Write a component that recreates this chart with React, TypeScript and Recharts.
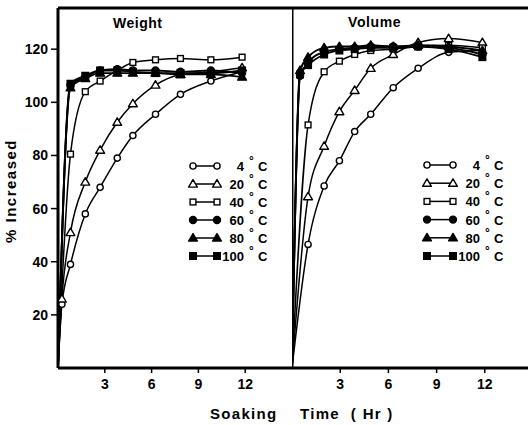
import React from 'react';
import { LineChart, Line, XAxis, YAxis, ReferenceLine } from 'recharts';

// ---------- data ----------
const weightTimes = [0, 0.25, 0.8, 1.75, 2.7, 3.8, 4.8, 6.25, 7.85, 9.8, 11.8];
const weight4 = [0, 24, 39, 58, 68, 79, 87.5, 95.5, 103, 108, 111.5];
const weight20 = [0, 26, 51, 70, 82, 92.5, 99.5, 106.5, 110.5, 111.5, 113];
const weight40 = [0, null, 80.5, 104, 108, 112, 115, 116, 116.5, 116, 117];
const weight60 = [0, null, 106.5, 109.5, 112, 112.5, 112, 112, 111.5, 112, 111];
const weight80 = [0, null, 105.5, 109, 111, 111, 111, 111, 110.5, 110.5, 109.5];
const weight100 = [0, null, 107, 110, 112, 112, 111.5, 111, 111, 111, 112];

const volumeTimes = [0, 0.5, 1, 2, 2.95, 3.9, 4.9, 6.3, 7.85, 9.75, 11.85];
const volume4 = [0, null, 46.5, 68.5, 78, 89, 95.5, 105.5, 112.8, 118.8, 119.5];
const volume20 = [0, null, 64.5, 83.5, 96.5, 104.5, 112.8, 118, 122.5, 124, 122.5];
const volume40 = [0, null, 91.5, 111.5, 115.5, 118, 119.5, 120, 121, 121.5, 120.5];
const volume60 = [0, 110, 115, 119, 120, 120.5, 121, 121, 121, 120.5, 118];
const volume80 = [0, 112, 117, 120.5, 121, 121, 121.5, 121, 121.5, 121, 119.5];
const volume100 = [0, 110.5, 114, 118, 119.5, 120, 120.5, 120.5, 121, 120, 117];

const tempLabels = ['4', '20', '40', '60', '80', '100'];
const markerShapes = ['openCircle', 'openTriangle', 'openSquare', 'circle', 'triangle', 'square'];
const xTicks = [3, 6, 9, 12];
const yTicks = [20, 40, 60, 80, 100, 120];

const Y_MAX = 135.5;
const X_MAX = 15;
const FONT = '"Liberation Sans", Arial, sans-serif';

// ---------- helpers ----------
function buildRows(times: number[], series: (number | null)[][]) {
  return times.map((t, i) => {
    const row: any = { t };
    series.forEach((s, k) => {
      row['s' + k] = s[i];
    });
    return row;
  });
}

const weightRows = buildRows(weightTimes, [weight4, weight20, weight40, weight60, weight80, weight100]);
const volumeRows = buildRows(volumeTimes, [volume4, volume20, volume40, volume60, volume80, volume100]);

function Marker({ shape, cx, cy }: { shape: string; cx: number; cy: number }) {
  const open = shape.startsWith('open');
  const fill = open ? '#fff' : '#000';
  const sw = 1.4;
  if (shape.endsWith('ircle')) {
    return <circle cx={cx} cy={cy} r={open ? 3.1 : 3.5} fill={fill} stroke="#000" strokeWidth={sw} />;
  }
  if (shape.endsWith('riangle')) {
    const s = 4.4;
    const pts = `${cx},${cy - s} ${cx - s},${cy + s * 0.7} ${cx + s},${cy + s * 0.7}`;
    return <polygon points={pts} fill={fill} stroke="#000" strokeWidth={sw} strokeLinejoin="round" />;
  }
  const h = open ? 2.9 : 3.3;
  return <rect x={cx - h} y={cy - h} width={h * 2} height={h * 2} fill={fill} stroke="#000" strokeWidth={sw} />;
}

function makeDot(shape: string) {
  return (p: any) => {
    const { cx, cy, index, payload, value } = p;
    if (cx == null || cy == null || value == null || (payload && payload.t === 0)) {
      return <g key={`d${index}`} />;
    }
    return (
      <g key={`d${index}`}>
        <Marker shape={shape} cx={cx} cy={cy} />
      </g>
    );
  };
}

const tickStyle = { fill: '#000', fontSize: 14, fontWeight: 'bold', fontFamily: FONT };

function Panel({ rows, showY, width }: { rows: any[]; showY: boolean; width: number }) {
  return (
    <LineChart width={width} height={425} data={rows} margin={{ top: 8, right: 0, bottom: 0, left: 0 }}>
      <XAxis
        dataKey="t"
        type="number"
        domain={[0, X_MAX]}
        ticks={xTicks}
        interval={0}
        allowDataOverflow
        height={57}
        tickSize={5}
        tickMargin={6}
        axisLine={{ stroke: '#000', strokeWidth: 3 }}
        tickLine={{ stroke: '#000', strokeWidth: 1.5 }}
        tick={tickStyle}
      />
      {showY ? (
        <YAxis
          type="number"
          domain={[0, Y_MAX]}
          ticks={yTicks}
          interval={0}
          allowDataOverflow
          width={58}
          tickSize={7}
          tickMargin={3}
          axisLine={{ stroke: '#000', strokeWidth: 3 }}
          tickLine={{ stroke: '#000', strokeWidth: 1.5 }}
          tick={tickStyle}
        />
      ) : (
        <YAxis hide type="number" domain={[0, Y_MAX]} allowDataOverflow />
      )}
      <ReferenceLine y={Y_MAX} stroke="#000" strokeWidth={3} />
      {!showY && <ReferenceLine x={0} stroke="#000" strokeWidth={3} />}
      {markerShapes.map((shape, k) => (
        <Line
          key={shape}
          dataKey={'s' + k}
          type="monotone"
          stroke="#000"
          strokeWidth={k >= 3 ? 1.9 : 1.5}
          connectNulls
          dot={makeDot(shape)}
          activeDot={false}
          isAnimationActive={false}
        />
      ))}
    </LineChart>
  );
}

function LegendBlock({ x1, x2, numEnd, y0, step }: { x1: number; x2: number; numEnd: number; y0: number; step: number }) {
  return (
    <g>
      {tempLabels.map((lab, i) => {
        const y = y0 + i * step;
        return (
          <g key={lab}>
            <line x1={x1} x2={x2} y1={y} y2={y} stroke="#000" strokeWidth={1.5} />
            <Marker shape={markerShapes[i]} cx={x1} cy={y} />
            <Marker shape={markerShapes[i]} cx={x2} cy={y} />
            <text x={numEnd} y={y + 5} textAnchor="end" fontSize={13} fontWeight="bold" fontFamily={FONT}>
              {lab}
            </text>
            <text x={numEnd + 5} y={y - 1} fontSize={12} fontWeight="bold" fontFamily={FONT}>
              °
            </text>
            <text x={numEnd + 14} y={y + 5} fontSize={13} fontWeight="bold" fontFamily={FONT}>
              C
            </text>
          </g>
        );
      })}
    </g>
  );
}

export default function App() {
  return (
    <div
      style={{
        position: 'absolute',
        left: 0,
        top: 0,
        width: 528,
        height: 425,
        overflow: 'hidden',
        background: '#fff',
      }}
    >
      <div style={{ position: 'absolute', left: 0, top: 0 }}>
        <Panel rows={weightRows} showY width={292} />
      </div>
      <div style={{ position: 'absolute', left: 292, top: 0 }}>
        <Panel rows={volumeRows} showY={false} width={241} />
      </div>
      <svg
        width={528}
        height={425}
        style={{ position: 'absolute', left: 0, top: 0, pointerEvents: 'none' }}
      >
        <text x={113} y={28} fontSize={14} fontWeight="bold" fontFamily={FONT} letterSpacing={0.5}>
          Weight
        </text>
        <text x={348} y={27} fontSize={14} fontWeight="bold" fontFamily={FONT} letterSpacing={0.6}>
          Volume
        </text>
        <text
          x={10}
          y={191}
          transform="rotate(-90 10 191)"
          textAnchor="middle"
          dominantBaseline="central"
          fontSize={15}
          fontWeight="bold"
          fontFamily={FONT}
          letterSpacing={1.5}
        >
          % Increased
        </text>
        <text x={210} y={419} fontSize={15} fontWeight="bold" fontFamily={FONT} letterSpacing={1.3}>
          Soaking
        </text>
        <text x={300} y={419} fontSize={15} fontWeight="bold" fontFamily={FONT} letterSpacing={1.3} style={{ whiteSpace: 'pre' }}>
          {'Time  ( Hr )'}
        </text>
        <LegendBlock x1={193} x2={217} numEnd={244} y0={166} step={18} />
        <LegendBlock x1={427} x2={453} numEnd={480} y0={165} step={18.2} />
      </svg>
    </div>
  );
}
